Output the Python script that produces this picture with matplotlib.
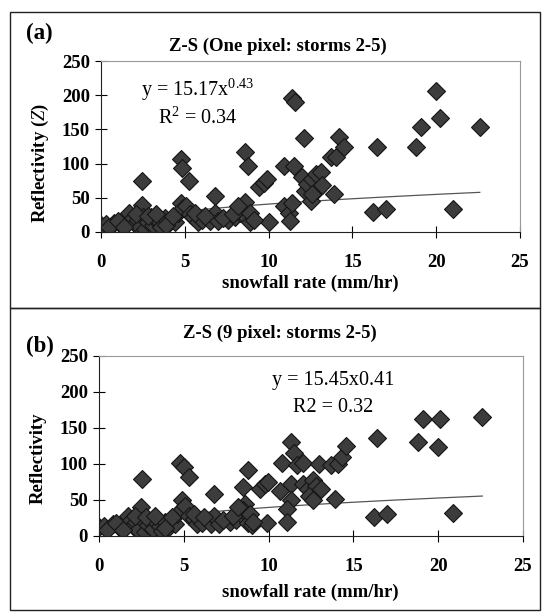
import numpy as np
import matplotlib
matplotlib.use('Agg')
import matplotlib.pyplot as plt
from matplotlib.patches import Rectangle

plt.rcParams['font.family'] = ['Liberation Serif', 'DejaVu Serif']
plt.rcParams['mathtext.fontset'] = 'custom'
plt.rcParams['mathtext.rm'] = 'Liberation Serif'
plt.rcParams['mathtext.it'] = 'Liberation Serif:italic'

# panel (a): one pixel, storms 2-5
rate_a = [0.0, 0.3, 0.8, 1.2, 1.5, 1.7, 1.9, 2.0, 2.2, 2.3, 2.45, 2.45, 2.5, 2.6, 2.8,
          3.0, 3.1, 3.3, 3.5, 3.6, 3.8, 4.0, 4.2, 4.4, 4.6, 4.8, 4.85, 4.8, 4.9, 5.1,
          5.25, 5.3, 5.5, 5.8, 6.0, 6.5, 6.8, 6.8, 7.0, 7.6, 8.0, 8.3, 8.5, 8.6, 8.8,
          8.6, 8.7, 8.9, 9.4, 9.7, 9.9, 10.0, 10.9, 11.5, 10.9, 11.2, 11.4, 11.3, 11.4,
          11.6, 12.1, 12.0, 12.2, 12.3, 12.5, 12.6, 12.8, 12.9, 13.1, 13.2, 12.6, 13.7,
          14.0, 13.9, 14.2, 14.5, 16.2, 16.45, 17.0, 18.8, 19.1, 20.0, 20.2, 21.0, 22.6,
          0.5, 1.0, 1.4, 2.1, 2.8, 3.3, 3.9, 4.3, 5.6, 6.2, 7.3, 7.9, 8.2, 8.9, 9.1]
refl_a = [10, 12, 13, 10, 16, 28, 20, 12, 18, 8, 74, 40, 22, 5, 14,
          22, 10, 18, 14, 8, 20, 12, 18, 15, 28, 107, 93, 42, 35, 38,
          74, 26, 22, 14, 18, 16, 53, 28, 16, 18, 22, 28, 35, 117, 97,
          44, 20, 15, 66, 72, 77, 15, 96, 97, 38, 28, 42, 16, 196,
          190, 137, 80, 60, 70, 45, 78, 85, 62, 88, 68, 55, 110,
          110, 55, 139, 124, 29, 124, 33, 124, 153, 206, 166, 33, 153,
          8, 16, 8, 26, 24, 26, 10, 24, 28, 24, 20, 26, 38, 28, 18]
coef_a, expo_a = 15.17, 0.43

# panel (b): 9 pixel, storms 2-5
rate_b = [0.0, 0.3, 0.8, 1.2, 1.5, 1.7, 1.9, 2.0, 2.2, 2.3, 2.55, 2.5, 2.6, 2.7, 2.9,
          3.1, 3.2, 3.4, 3.6, 3.7, 3.9, 4.1, 4.3, 4.5, 4.6, 4.8, 5.0, 5.3, 4.9, 4.9,
          5.1, 5.3, 5.6, 5.8, 6.1, 6.6, 6.8, 6.8, 7.1, 7.7, 8.1, 8.4, 8.5, 8.8, 8.6,
          8.5, 8.8, 9.0, 9.5, 9.8, 9.95, 9.9, 10.7, 10.8, 11.3, 11.5, 11.7, 12.0, 11.3,
          11.3, 11.1, 11.1, 12.0, 12.3, 12.6, 12.8, 13.1, 12.4, 12.6, 13.0, 13.7, 14.1,
          14.3, 13.9, 14.55, 16.2, 16.4, 17.0, 18.8, 19.1, 20.0, 20.1, 20.9, 22.6,
          0.5, 1.0, 1.4, 2.1, 2.8, 3.3, 3.9, 4.3, 5.6, 6.2, 7.3, 7.9, 8.2, 8.9, 9.1]
refl_b = [12, 14, 16, 12, 18, 28, 22, 14, 20, 8, 79, 40, 22, 6, 15,
          22, 10, 18, 14, 7, 20, 13, 19, 16, 30, 101, 96, 82, 50, 38,
          42, 28, 24, 16, 18, 16, 58, 28, 16, 20, 22, 30, 68, 92, 45,
          36, 18, 15, 65, 72, 75, 18, 63, 101, 130, 115, 98, 101, 72,
          50, 37, 20, 72, 65, 78, 70, 65, 55, 50, 100, 98, 100,
          110, 52, 125, 26, 136, 31, 130, 162, 124, 162, 32, 165,
          9, 18, 9, 28, 26, 28, 11, 26, 30, 26, 22, 28, 40, 30, 20]
coef_b, expo_b = 15.45, 0.41

xticks = [0, 5, 10, 15, 20, 25]
yticks = [0, 50, 100, 150, 200, 250]

W, H = 544, 612
fig = plt.figure(figsize=(W / 100, H / 100), dpi=100)


def fx(px):
    return px / W


def fy(py):
    return 1 - py / H


# outer frames around the two panels
for top, bot in [(12, 308), (308, 610)]:
    fig.patches.append(Rectangle((fx(10), fy(bot)), fx(540) - fx(10), fy(top) - fy(bot),
                                 transform=fig.transFigure, fill=False,
                                 edgecolor='#222222', linewidth=1.0))


def draw_panel(ax, rate, refl, coef, expo):
    # power-law trend from the fitted coefficients, drawn under the points
    xfit = np.linspace(min(rate) + 0.05, max(rate), 200)
    ax.plot(xfit, coef * xfit ** expo, color='#555555', linewidth=0.9, zorder=1)
    ax.plot(rate, refl, linestyle='none', marker='D', markersize=9.5, zorder=2,
            markerfacecolor='#3c3c3c', markeredgecolor='#151515', markeredgewidth=0.8)
    ax.set_xlim(0, 25)
    ax.set_ylim(0, 250)
    ax.set_xticks(xticks)
    ax.set_yticks(yticks)
    ax.tick_params(axis='x', direction='inout', length=8, pad=12, labelsize=13.5)
    ax.tick_params(axis='y', direction='inout', length=8, pad=4, labelsize=13.5)
    for lab in ax.get_xticklabels() + ax.get_yticklabels():
        lab.set_fontweight('bold')
    ax.spines['left'].set_color('#222222')
    ax.spines['bottom'].set_color('#222222')
    ax.spines['top'].set_color('#999999')
    ax.spines['right'].set_color('#999999')


# panel (a)
ax1 = fig.add_axes([fx(101), fy(232), fx(520) - fx(101), fy(61) - fy(232)])
draw_panel(ax1, rate_a, refl_a, coef_a, expo_a)
fig.text(fx(26), fy(33), '(a)', fontsize=16.5, fontweight='bold', va='center', ha='left')
fig.text(fx(278), fy(46), 'Z-S (One pixel: storms 2-5)', fontsize=13.5,
         fontweight='bold', ha='center', va='center')
fig.text(fx(310), fy(283), 'snowfall rate (mm/hr)', fontsize=13.5,
         fontweight='bold', ha='center', va='center')
fig.text(fx(40), fy(163), 'Reflectivity ($\\mathit{Z}$)', fontsize=13.5, fontweight='bold',
         rotation=90, ha='center', va='center')
fig.text(fx(141), fy(90), 'y = 15.17x$^{0.43}$', fontsize=14.5, ha='left', va='center')
fig.text(fx(158), fy(118), 'R$^{2}$ = 0.34', fontsize=14.5, ha='left', va='center')

# panel (b)
ax2 = fig.add_axes([fx(99), fy(536), fx(523) - fx(99), fy(356) - fy(536)])
draw_panel(ax2, rate_b, refl_b, coef_b, expo_b)
fig.text(fx(26), fy(346), '(b)', fontsize=16.5, fontweight='bold', va='center', ha='left')
fig.text(fx(280), fy(333), 'Z-S (9 pixel: storms 2-5)', fontsize=13.5,
         fontweight='bold', ha='center', va='center')
fig.text(fx(310), fy(592), 'snowfall rate (mm/hr)', fontsize=13.5,
         fontweight='bold', ha='center', va='center')
fig.text(fx(38), fy(458), 'Reflectivity', fontsize=13.5, fontweight='bold',
         rotation=90, ha='center', va='center')
fig.text(fx(333), fy(381), 'y = 15.45x0.41', fontsize=14.5, ha='center', va='center')
fig.text(fx(333), fy(408), 'R2 = 0.32', fontsize=14.5, ha='center', va='center')

fig.savefig('out.png', dpi=100)
